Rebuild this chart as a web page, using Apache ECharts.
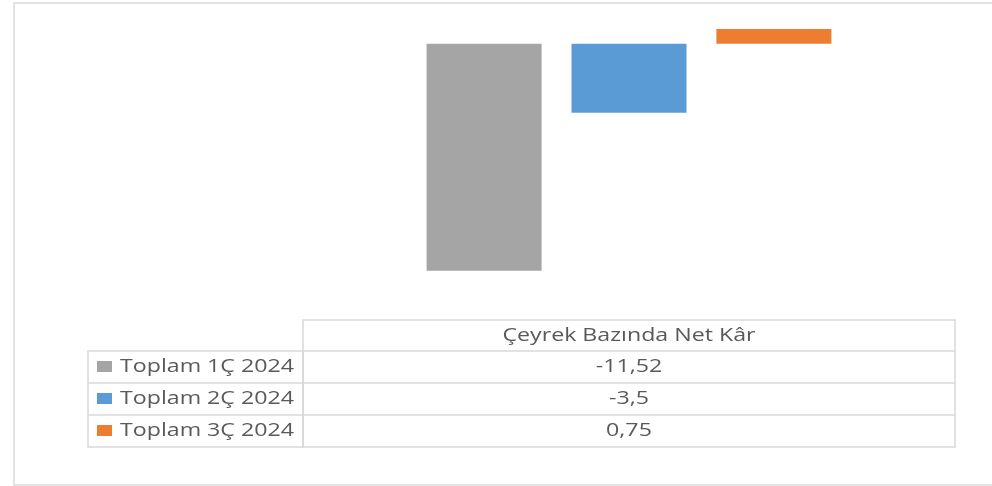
<!DOCTYPE html>
<html>
<head>
<meta charset="utf-8">
<script src="https://cdn.jsdelivr.net/npm/echarts@6/dist/echarts.min.js"></script>
<style>
  html, body { margin: 0; padding: 0; background: #fff; }
  #chart { width: 992px; height: 486px; }
</style>
</head>
<body>
<div id="chart"></div>
<script>
// veri
var categories = ['Çeyrek Bazında Net Kâr'];
var seriesNames = ['Toplam 1Ç 2024', 'Toplam 2Ç 2024', 'Toplam 3Ç 2024'];
var seriesValues = [-11.52, -3.5, 0.75];
var colors = ['#A5A5A5', '#5B9BD5', '#ED7D31'];

var textColor = '#595959';
var lineColor = '#D9D9D9';
var fontFamily = '"Open Sans", sans-serif';
var textFont = '19px ' + fontFamily;
var stretch = 1.22;

// tablo geometrisi
var tblLeft = 88, colSplit = 303, tblRight = 955;
var headTop = 320, rowH = 32;

var chart = echarts.init(document.getElementById('chart'));

var graphics = [];
// dış çerçeve
graphics.push({
  type: 'polyline',
  shape: { points: [[992, 3], [14, 3], [14, 485], [992, 485]] },
  style: { stroke: lineColor, lineWidth: 1.5, fill: null }
});

// tablo çizgileri
graphics.push({
  type: 'rect',
  shape: { x: colSplit, y: headTop, width: tblRight - colSplit, height: rowH * (seriesNames.length + 1) - 1 },
  style: { stroke: lineColor, lineWidth: 1.5, fill: null }
});
graphics.push({
  type: 'rect',
  shape: { x: tblLeft, y: headTop + rowH - 1, width: colSplit - tblLeft, height: rowH * seriesNames.length },
  style: { stroke: lineColor, lineWidth: 1.5, fill: null }
});
for (var i = 1; i < seriesNames.length; i++) {
  graphics.push({
    type: 'line',
    shape: { x1: tblLeft, y1: headTop + rowH * (i + 1) - 1, x2: tblRight, y2: headTop + rowH * (i + 1) - 1 },
    style: { stroke: lineColor, lineWidth: 1.5 }
  });
}
graphics.push({
  type: 'line',
  shape: { x1: colSplit, y1: headTop + rowH - 1, x2: tblRight, y2: headTop + rowH - 1 },
  style: { stroke: lineColor, lineWidth: 1.5 }
});

// başlık
var midX = (colSplit + tblRight) / 2;
graphics.push({
  type: 'text',
  x: midX, y: headTop + rowH / 2,
  scaleX: stretch,
  style: {
    text: categories[0], fill: textColor, font: textFont,
    align: 'center', verticalAlign: 'middle'
  }
});

seriesNames.forEach(function (name, i) {
  var cy = headTop + rowH * (i + 1) + rowH / 2 - 1;
  graphics.push({
    type: 'rect',
    shape: { x: 97, y: cy - 6, width: 15, height: 11 },
    style: { fill: colors[i] }
  });
  graphics.push({
    type: 'text',
    x: 120, y: cy,
    scaleX: stretch,
    style: {
      text: name, fill: textColor, font: textFont,
      align: 'left', verticalAlign: 'middle'
    }
  });
  graphics.push({
    type: 'text',
    x: midX, y: cy,
    scaleX: stretch,
    style: {
      text: String(seriesValues[i]).replace('.', ','), fill: textColor, font: textFont,
      align: 'center', verticalAlign: 'middle'
    }
  });
});

chart.setOption({
  animation: false,
  grid: {
    left: colSplit,
    right: 992 - tblRight,
    top: 24,
    height: 276
  },
  xAxis: {
    type: 'category',
    data: categories,
    show: false
  },
  yAxis: {
    type: 'value',
    min: -13,
    max: 1,
    show: false,
    splitLine: { show: false }
  },
  series: seriesNames.map(function (name, i) {
    return {
      name: name,
      type: 'bar',
      data: [seriesValues[i]],
      barWidth: 115,
      barGap: '26%',
      itemStyle: { color: colors[i] }
    };
  }),
  graphic: graphics
});
</script>
</body>
</html>
